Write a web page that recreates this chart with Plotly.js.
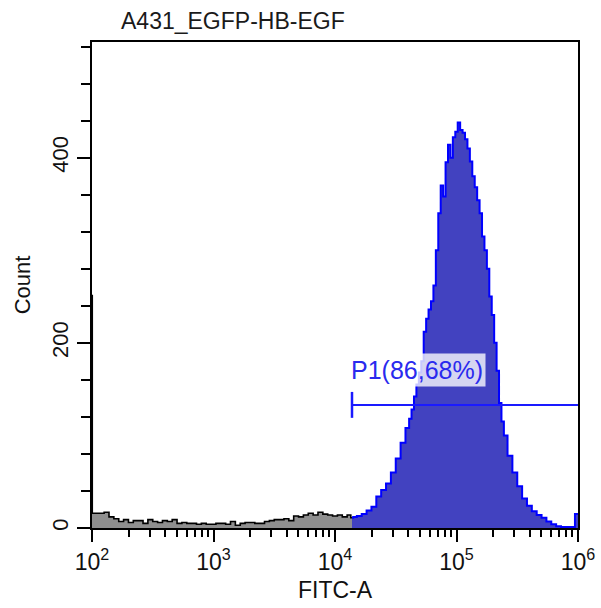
<!DOCTYPE html>
<html>
<head>
<meta charset="utf-8">
<script src="https://cdn.plot.ly/plotly-3.0.1.min.js"></script>
<style>
  html, body { margin: 0; padding: 0; background: #fff; }
  #chart { width: 601px; height: 608px; }
</style>
</head>
<body>
<div id="chart"></div>
<script>
// ---- Data (FITC-A values and counts) ----
const grayFitc = [100, 101, 109.6, 120.2, 131.8, 144.5, 158.5, 173.8, 190.5, 208.9, 229.1,
  251.2, 275.4, 302.0, 331.1, 363.1, 398.1, 436.5, 478.6, 524.8, 575.4,
  631.0, 691.8, 758.6, 831.8, 912.0, 1000, 1096, 1202, 1318, 1445,
  1585, 1738, 1905, 2089, 2291, 2512, 2754, 3020, 3311, 3631,
  3981, 4365, 4786, 5248, 5754, 6310, 6918, 7586, 8318, 9120,
  10000, 10965, 12023, 13183, 13800];
const grayCount = [251, 16, 16, 16, 17, 12, 10, 7, 9, 6, 8,
  8, 5, 9, 7, 6, 8, 7, 9, 5, 6,
  5, 5, 4, 5, 4, 4, 5, 5, 4, 7,
  3, 5, 6, 6, 5, 5, 7, 8, 9, 9,
  10, 8, 13, 12, 14, 16, 14, 17, 15, 14,
  13, 14, 12, 14, 11];

const blueFitc = [13800, 14454, 15849, 17378, 19055, 20893, 22909, 25119, 27542, 30200,
  33113, 36308, 39811, 41687, 43652, 45709, 47863, 50119, 52481, 54954,
  57544, 60256, 63096, 66069, 69183, 72444, 75858, 79433, 83176, 87096,
  91201, 95499, 100000, 104713, 109648, 114815, 120226, 125893, 131826, 138038,
  144544, 151356, 158489, 165959, 173780, 181970, 190546, 199526, 208930, 218776,
  229087, 239883, 251189, 275423, 301995, 331131, 363078, 398107, 436516, 478630,
  524807, 575440, 630957, 691831, 758578, 831764, 912011, 977237, 1000000];
const blueCount = [11, 12, 13, 15, 19, 23, 34, 41, 48, 60,
  75, 92, 108, 118, 128, 142, 155, 168, 180, 212,
  226, 236, 245, 262, 300, 340, 370, 358, 395, 414,
  400, 422, 428, 438, 430, 427, 420, 410, 396, 380,
  368, 354, 340, 315, 300, 280, 250, 230, 200, 170,
  135, 115, 100, 78, 60, 45, 32, 24, 18, 14,
  11, 7, 4, 2, 1, 1, 1, 15, 15];

// Gate P1
const gateFitc = [13800, 1000000];
const gateCount = 133;
const gateCapCount = [119, 147];
const gateLabel = 'P1(86,68%)';
const gateLabelCount = 171;

// Axes
const xMajorVals = [100, 1000, 10000, 100000, 1000000];
const xMajorText = ['10<sup>2</sup>', '10<sup>3</sup>', '10<sup>4</sup>', '10<sup>5</sup>', '10<sup>6</sup>'];
const xMinorMantissa = [2, 3, 4, 5, 6, 7, 8, 9];
const yMajorVals = [0, 200, 400];
const yMinorVals = [40, 80, 120, 160, 240, 280, 320, 360, 440, 480, 520];

const chartTitle = 'A431_EGFP-HB-EGF';
const xTitle = 'FITC-A';
const yTitle = 'Count';

// ---- Build ----
const xMinorVals = [];
xMajorVals.slice(0, -1).forEach(d => xMinorMantissa.forEach(m => xMinorVals.push(d * m)));

const FONT = 'Liberation Sans, Arial, sans-serif';

const traces = [
  {
    x: grayFitc, y: grayCount, type: 'scatter', mode: 'lines',
    line: { color: '#000000', width: 1.6, shape: 'hvh' },
    fill: 'tozeroy', fillcolor: '#8f8f8f', hoverinfo: 'skip', showlegend: false
  },
  {
    x: blueFitc, y: blueCount, type: 'scatter', mode: 'lines',
    line: { color: '#0000ff', width: 2, shape: 'hvh' },
    fill: 'tozeroy', fillcolor: '#4242c0', hoverinfo: 'skip', showlegend: false
  },
  {
    x: gateFitc, y: [gateCount, gateCount], type: 'scatter', mode: 'lines',
    line: { color: '#1a1aff', width: 2 }, hoverinfo: 'skip', showlegend: false
  },
  {
    x: [gateFitc[0], gateFitc[0]], y: gateCapCount, type: 'scatter', mode: 'lines',
    line: { color: '#1a1aff', width: 2.5 }, hoverinfo: 'skip', showlegend: false
  }
];

const layout = {
  width: 601, height: 608,
  margin: { l: 92, r: 23, t: 42, b: 80 },
  paper_bgcolor: '#ffffff', plot_bgcolor: '#ffffff',
  font: { family: FONT, color: '#111111', size: 22 },
  showlegend: false,
  title: {
    text: chartTitle,
    font: { family: FONT, size: 23, color: '#1a1a1a' },
    xref: 'container', yref: 'container',
    x: 121 / 601, xanchor: 'left',
    y: 1 - 21 / 608, yanchor: 'middle'
  },
  xaxis: {
    type: 'log', range: [2, 6],
    tickmode: 'array', tickvals: xMajorVals, ticktext: xMajorText,
    ticks: 'outside', ticklen: 12, tickwidth: 2, tickcolor: '#000',
    tickfont: { family: FONT, size: 23, color: '#111' },
    showline: true, linecolor: '#000', linewidth: 2, mirror: true,
    showgrid: false, zeroline: false,
    minor: { tickmode: 'array', tickvals: xMinorVals, ticks: 'outside', ticklen: 7, tickwidth: 2, tickcolor: '#000', showgrid: false },
    title: { text: xTitle, font: { family: FONT, size: 23, color: '#111' }, standoff: 8 }
  },
  yaxis: {
    range: [0, 525],
    tickmode: 'array', tickvals: yMajorVals,
    tickangle: -90,
    ticks: 'outside', ticklen: 13, tickwidth: 2, tickcolor: '#000',
    tickfont: { family: FONT, size: 22, color: '#111' },
    showline: true, linecolor: '#000', linewidth: 2, mirror: true,
    showgrid: false, zeroline: false,
    minor: { tickmode: 'array', tickvals: yMinorVals, ticks: 'outside', ticklen: 9, tickwidth: 2, tickcolor: '#000', showgrid: false },
    title: { text: yTitle, font: { family: FONT, size: 22, color: '#111' }, standoff: 12 }
  },
  annotations: [
    {
      x: Math.log10(gateFitc[0]), y: gateLabelCount, xref: 'x', yref: 'y',
      text: gateLabel, showarrow: false, xanchor: 'left', yanchor: 'middle', xshift: -4,
      font: { family: FONT, size: 25, color: '#2a2aee' },
      bgcolor: 'rgba(255,255,255,0.78)', borderpad: 2
    }
  ]
};

Plotly.newPlot('chart', traces, layout, { staticPlot: true, displayModeBar: false });
</script>
</body>
</html>
